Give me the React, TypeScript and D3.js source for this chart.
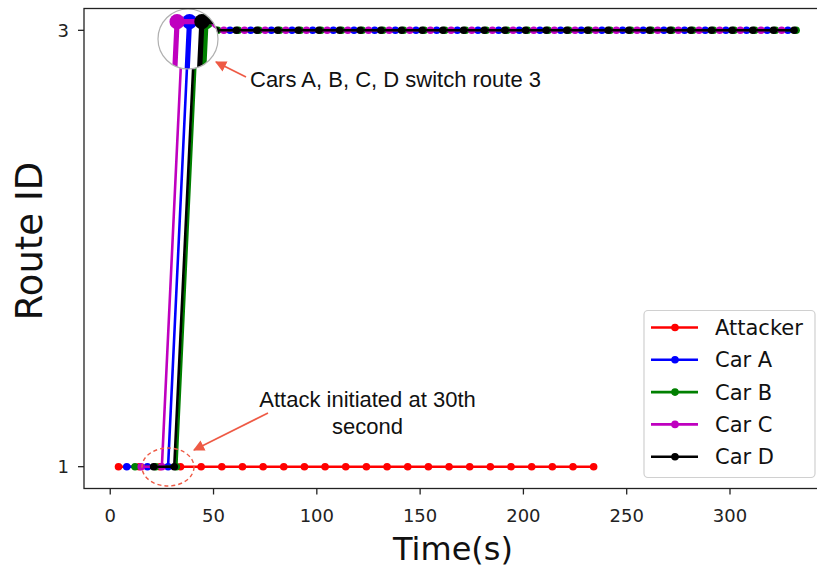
import React from "react";
import * as d3 from "d3";

const attackerTime = [4, 14, 24, 34, 44, 54, 64, 74, 84, 94, 104, 114, 124, 134, 144, 154, 164, 174, 184, 194, 204, 214, 224, 234];
const attackerRoute = [1, 1, 1, 1, 1, 1, 1, 1, 1, 1, 1, 1, 1, 1, 1, 1, 1, 1, 1, 1, 1, 1, 1, 1];

const carATime = [8, 18, 28, 38, 48, 58, 68, 78, 88, 98, 108, 118, 128, 138, 148, 158, 168, 178, 188, 198, 208, 218, 228, 238, 248, 258, 268, 278, 288, 298, 308, 318, 328];
const carARoute = [1, 1, 1, 3, 3, 3, 3, 3, 3, 3, 3, 3, 3, 3, 3, 3, 3, 3, 3, 3, 3, 3, 3, 3, 3, 3, 3, 3, 3, 3, 3, 3, 3];

const carBTime = [12, 22, 32, 42, 52, 62, 72, 82, 92, 102, 112, 122, 132, 142, 152, 162, 172, 182, 192, 202, 212, 222, 232, 242, 252, 262, 272, 282, 292, 302, 312, 322, 332];
const carBRoute = [1, 1, 1, 3, 3, 3, 3, 3, 3, 3, 3, 3, 3, 3, 3, 3, 3, 3, 3, 3, 3, 3, 3, 3, 3, 3, 3, 3, 3, 3, 3, 3, 3];

const carCTime = [15, 25, 35, 45, 55, 65, 75, 85, 95, 105, 115, 125, 135, 145, 155, 165, 175, 185, 195, 205, 215, 225, 235, 245, 255, 265, 275, 285, 295, 305, 315, 325];
const carCRoute = [1, 1, 3, 3, 3, 3, 3, 3, 3, 3, 3, 3, 3, 3, 3, 3, 3, 3, 3, 3, 3, 3, 3, 3, 3, 3, 3, 3, 3, 3, 3, 3];

const carDTime = [21, 31, 41, 51, 61, 71, 81, 91, 101, 111, 121, 131, 141, 151, 161, 171, 181, 191, 201, 211, 221, 231, 241, 251, 261, 271, 281, 291, 301, 311, 321, 331];
const carDRoute = [1, 1, 3, 3, 3, 3, 3, 3, 3, 3, 3, 3, 3, 3, 3, 3, 3, 3, 3, 3, 3, 3, 3, 3, 3, 3, 3, 3, 3, 3, 3, 3];

const seriesNames = ["Attacker", "Car A", "Car B", "Car C", "Car D"];
const seriesColors = ["#ff0000", "#0000ff", "#008000", "#bf00bf", "#000000"];
const seriesTimes = [attackerTime, carATime, carBTime, carCTime, carDTime];
const seriesRoutes = [attackerRoute, carARoute, carBRoute, carCRoute, carDRoute];

const xTicks = [0, 50, 100, 150, 200, 250, 300];
const yTicks = [1, 3];

const annoLine1 = "Attack initiated at 30th";
const annoLine2 = "second";
const annoSwitch = "Cars A, B, C, D switch route 3";

const W = 817;
const H = 567;
const plotLeft = 84;
const plotTop = 8.5;
const plotBottom = 488.5;
const plotRight = 843;

const x = d3.scaleLinear().domain([-12.7, 354.7]).range([plotLeft, plotRight]);
const y = d3.scaleLinear().domain([0.9, 3.1]).range([plotBottom, plotTop]);

const lineGen = d3
  .line<[number, number]>()
  .x((d) => x(d[0]))
  .y((d) => y(d[1]));

const lensCx = 188;
const lensCy = 39;
const lensR = 30;
const lensZoom = 2;

function Series() {
  return (
    <g>
      {seriesNames.map((name, i) => {
        const pts: [number, number][] = seriesTimes[i].map((t, j) => [t, seriesRoutes[i][j]]);
        return (
          <g key={name}>
            <path d={lineGen(pts) || ""} fill="none" stroke={seriesColors[i]} strokeWidth={2.6} />
            {pts.map((p, j) => (
              <circle key={j} cx={x(p[0])} cy={y(p[1])} r={3.8} fill={seriesColors[i]} />
            ))}
          </g>
        );
      })}
    </g>
  );
}

export default function App() {
  const annoColor = "#ee5a45";
  const tickFont = "DejaVu Sans, sans-serif";
  const annoFont = "Liberation Sans, Arial, sans-serif";
  const legendTop = 310.5;
  const legendRow = 32.3;
  return (
    <svg
      width={W}
      height={H}
      style={{ position: "fixed", left: 0, top: 0, background: "#fff" }}
      xmlns="http://www.w3.org/2000/svg"
    >
      <defs>
        <clipPath id="plotClip">
          <rect x={plotLeft} y={plotTop} width={plotRight - plotLeft} height={plotBottom - plotTop} />
        </clipPath>
        <clipPath id="lensClip">
          <circle cx={lensCx} cy={lensCy} r={lensR} />
        </clipPath>
        <marker id="arrowHead" viewBox="0 0 10 10" refX="9" refY="5" markerWidth="7" markerHeight="7" orient="auto">
          <path d="M0,0 L10,5 L0,10 z" fill={annoColor} />
        </marker>
      </defs>
      <rect x={0} y={0} width={W} height={H} fill="#fff" />

      <g clipPath="url(#plotClip)">
        <Series />
      </g>

      {/* magnifier lens */}
      <g clipPath="url(#lensClip)">
        <circle cx={lensCx} cy={lensCy} r={lensR} fill="#fff" />
        <g transform={`translate(${lensCx},${lensCy}) scale(${lensZoom}) translate(${-lensCx},${-lensCy})`}>
          <Series />
        </g>
      </g>
      <circle cx={lensCx} cy={lensCy} r={lensR} fill="none" stroke="#b0b0b0" strokeWidth={1.2} />

      {/* frame */}
      <rect
        x={plotLeft}
        y={plotTop}
        width={plotRight - plotLeft}
        height={plotBottom - plotTop}
        fill="none"
        stroke="#222"
        strokeWidth={1.3}
      />

      {/* x axis */}
      {xTicks.map((t) => (
        <g key={t}>
          <line x1={x(t)} x2={x(t)} y1={plotBottom} y2={plotBottom + 6} stroke="#222" strokeWidth={1.3} />
          <text x={x(t)} y={plotBottom + 33} textAnchor="middle" fontFamily={tickFont} fontSize={18} fill="#222">
            {t}
          </text>
        </g>
      ))}
      {/* y axis */}
      {yTicks.map((t) => (
        <g key={t}>
          <line x1={plotLeft - 6} x2={plotLeft} y1={y(t)} y2={y(t)} stroke="#222" strokeWidth={1.3} />
          <text x={plotLeft - 15} y={y(t) + 6.5} textAnchor="end" fontFamily={tickFont} fontSize={18} fill="#222">
            {t}
          </text>
        </g>
      ))}

      <text x={453} y={560} textAnchor="middle" fontFamily={tickFont} fontSize={32} fill="#111">
        Time(s)
      </text>
      <text
        transform={`translate(42,241) rotate(-90)`}
        textAnchor="middle"
        fontFamily={tickFont}
        fontSize={37}
        fill="#111"
      >
        Route ID
      </text>

      {/* annotations */}
      <line x1={246} y1={77} x2={216} y2={62} stroke={annoColor} strokeWidth={1.6} markerEnd="url(#arrowHead)" />
      <text x={250} y={87} fontFamily={annoFont} fontSize={22} fill="#111">
        {annoSwitch}
      </text>

      <ellipse
        cx={168}
        cy={467}
        rx={26}
        ry={19}
        fill="none"
        stroke={annoColor}
        strokeWidth={1.4}
        strokeDasharray="4,3"
      />
      <line x1={268} y1={413} x2={194} y2={450} stroke={annoColor} strokeWidth={1.6} markerEnd="url(#arrowHead)" />
      <text x={367.5} y={407} textAnchor="middle" fontFamily={annoFont} fontSize={22} fill="#111">
        {annoLine1}
      </text>
      <text x={367.5} y={434} textAnchor="middle" fontFamily={annoFont} fontSize={22} fill="#111">
        {annoLine2}
      </text>

      {/* legend */}
      <rect x={644} y={legendTop} width={171} height={167} rx={4} fill="#fff" fillOpacity={0.9} stroke="#d0d0d0" strokeWidth={1.2} />
      {seriesNames.map((name, i) => {
        const yy = legendTop + 17 + i * legendRow;
        return (
          <g key={name}>
            <line x1={651} x2={698} y1={yy} y2={yy} stroke={seriesColors[i]} strokeWidth={2.6} />
            <circle cx={675} cy={yy} r={3.8} fill={seriesColors[i]} />
            <text x={715} y={yy + 7.5} fontFamily={tickFont} fontSize={21} fill="#111">
              {name}
            </text>
          </g>
        );
      })}
    </svg>
  );
}
